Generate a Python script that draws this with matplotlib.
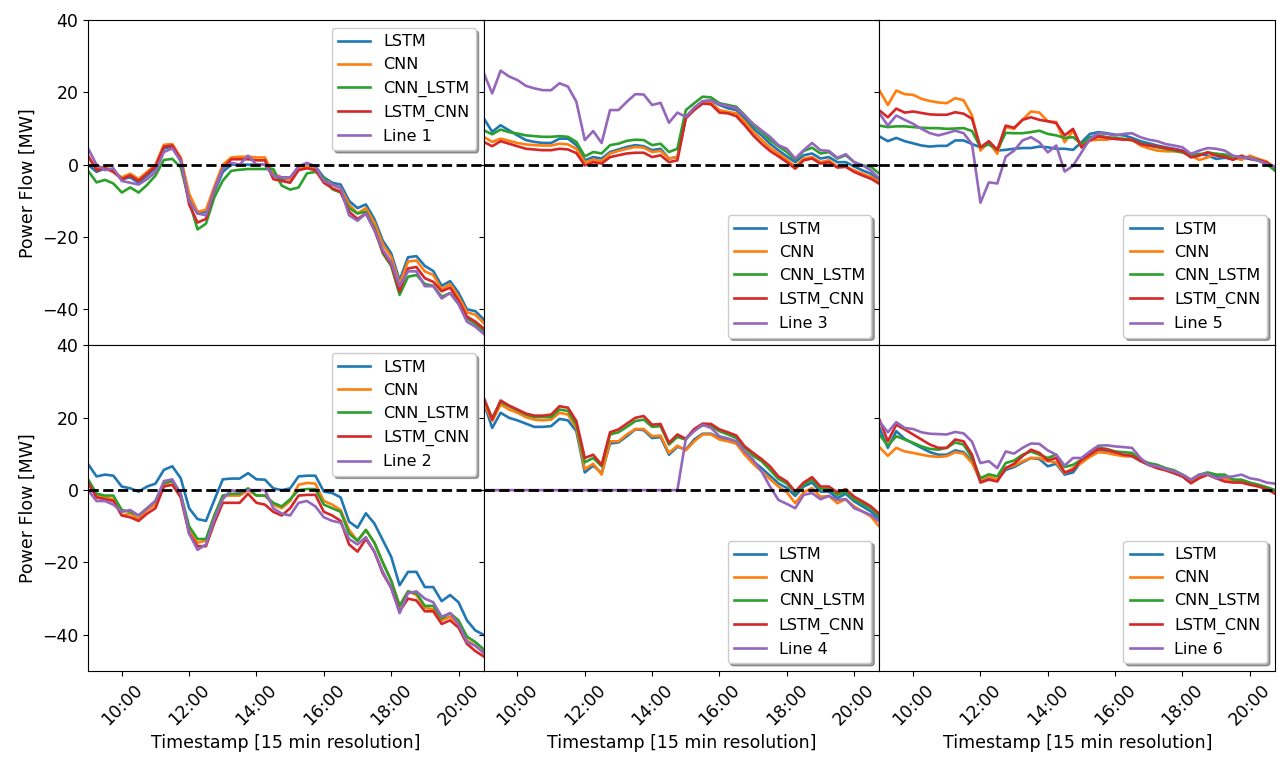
import pandas as pd
import matplotlib
matplotlib.use("Agg")
import matplotlib.pyplot as plt
import matplotlib.dates as mdates

# 15 min timestamps, 09:00 - 20:45
times = pd.date_range("2021-06-01 09:00", periods=48, freq="15min")
models = ["LSTM", "CNN", "CNN_LSTM", "LSTM_CNN"]
colors = ["#1f77b4", "#ff7f0e", "#2ca02c", "#d62728", "#9467bd"]

# ---- Line 1 ----
l1_lstm = [0, -2, -1, -1.5, -4, -3.5, -5, -3, -1, 4.5, 5, 1, -9.5, -13.5, -13, -7.5, -2, 0, 0, 0, 0, 0, -3, -4,
           -4, -0.5, 0.3, -0.5, -3.5, -5, -5.5, -10, -12, -11, -15, -21, -24.5, -32, -25.6, -25.3, -28, -29.4, -33.5, -32.2, -35.4, -40, -40.5, -42.8]
l1_cnn = [2, -1, -0.5, -2, -3.5, -2.5, -4, -2, 0, 5.5, 5.7, 2, -8, -13, -12.5, -6, 0, 2, 2.2, 2.2, 2, 2, -2.5, -3.5,
          -4, -1, -0.5, -1, -4, -5.5, -6.5, -11, -13.5, -12, -16, -22, -25.5, -33, -26.8, -26.5, -29.5, -30.5, -34.5, -33, -36.5, -40.8, -41.5, -43.8]
l1_cnn_lstm = [-1.7, -4.9, -4.2, -5.2, -7.7, -6.3, -7.7, -5.6, -3, 1.3, 1.6, -0.7, -10, -17.9, -16.3, -9, -4.4, -1.7, -1.4, -1.2, -1.2, -1.2, -1.2, -5.8,
               -6.9, -6.3, -2.4, -2, -3.5, -6.8, -7.7, -12, -13.5, -13, -17.5, -24.5, -28, -36, -31, -30.5, -33, -33.5, -36.5, -35.5, -38.5, -42.5, -44, -46]
l1_lstm_cnn = [2.5, -1.5, -1, -2, -4, -3, -4.5, -2.5, -0.5, 5, 5.3, 1.5, -11, -16, -15, -7, -1, 1.5, 1.5, 1.5, 1.2, 1.2, -4, -4.5,
               -5, -1.5, -1, -1.5, -5, -6.5, -7.5, -13, -15, -13.5, -18, -24, -27.5, -35, -28.7, -28.3, -31.4, -32.4, -35, -34, -37.6, -42, -43.4, -45.3]
l1_true = [4.5, 0, -1.5, -1, -4.5, -5, -5.5, -4, -2, 3.5, 4.5, 1, -10, -13.5, -14, -7, -1, 0.5, 0, 2.5, 0, 0, -3, -3.5,
           -3.5, -0.5, 0.5, -0.5, -4.5, -5.5, -6.5, -14, -15.5, -13.5, -18, -23.5, -27, -33.5, -29.5, -29.5, -33.6, -33.6, -37, -35.5, -38.5, -43.4, -44.8, -46.8]

# ---- Line 2 ----
l2_lstm = [7.2, 3.8, 4.3, 4, 1, 0.5, -0.4, 1, 1.8, 5.6, 6.6, 3.3, -5, -8, -8.5, -2.7, 3, 3.2, 3.2, 4.7, 3, 2.9, 0.5, 0,
           0.5, 3.8, 4, 4, -0.4, -0.8, -2, -8.7, -10.4, -6.4, -9.2, -13.8, -18.4, -26.3, -22.6, -22.6, -26.8, -26.8, -30.7, -29, -31, -36, -38.8, -40]
l2_cnn = [2, -1.5, -2, -2.5, -7, -6.5, -8, -5.5, -4, 1.5, 2.5, -1.5, -11, -14.5, -14, -7, -1.5, -1.5, -1.5, 0, -1.5, -1.5, -4, -5,
          -3, 1.5, 2, 1.8, -3, -4, -5.5, -11, -14, -11, -14.5, -20, -25, -32, -28, -29, -32.5, -33, -36, -35, -37, -41.5, -43, -45]
l2_cnn_lstm = [3, -1, -1.5, -1.5, -5.5, -6, -7, -5, -3, 2, 2.5, -1, -10, -13.5, -13.5, -7, -1.5, -1, -1, 0.5, -1.5, -1.5, -3.5, -4.5,
               -2.5, 0, 0.3, 0.3, -4, -5, -6, -12, -14, -11, -14.5, -20, -25, -32, -28, -28.5, -32, -32, -35.5, -34, -36, -40.5, -42, -44]
l2_lstm_cnn = [2, -2, -2.5, -3, -7, -7.5, -8.5, -6.5, -5, 1, 1.5, -2, -12, -15.5, -15.5, -9, -3.5, -3.5, -3.5, -1, -3.5, -4, -6, -7,
               -5, -1.5, -1.3, -1.3, -6, -7, -8.5, -15, -17, -13.5, -17, -23, -27, -33.5, -30, -30.5, -33.5, -33.5, -37, -36, -38, -42.5, -44.5, -46]
l2_true = [0, -3, -3, -4, -6, -5.5, -7, -5, -3, 2.5, 3, -1, -12, -16.5, -15, -8, -2.5, 0, -0.5, 0, 0, 0, -5, -6.5,
           -7, -3.5, -3, -4.5, -7.5, -8.5, -9, -13.5, -15, -13, -17, -22.5, -27, -34, -28.5, -28, -30, -31, -35, -34, -37, -42, -43, -45]

# ---- Line 3 ----
l3_lstm = [12.8, 9.1, 10.9, 9.5, 8.1, 6.8, 6.3, 6, 6, 7.2, 7.2, 5.4, 1.2, 2.1, 1.7, 3.5, 4.2, 4.9, 5.4, 5.1, 4, 4.4, 1.7, 2.1,
           13.2, 15.6, 17.4, 17.7, 16.5, 15.6, 15.1, 12.8, 10, 8.1, 5.8, 4, 2.3, 0.7, 2.6, 3.1, 1.7, 2.1, 0.7, 0.7, -0.5, -1.6, -2.5, -4.4]
l3_cnn = [7.7, 6.3, 7.2, 6.6, 6, 5.6, 5.4, 5.3, 5.3, 5.8, 5.6, 4.4, 0.7, 1.4, 1, 3.1, 3.8, 4.4, 4.9, 4.7, 3.5, 3.8, 1.7, 2.1,
          13.2, 15.4, 17.1, 17.1, 15.1, 14.6, 14.2, 11.9, 9.1, 6.9, 4.7, 3.1, 1.4, -0.5, 1.7, 2.1, 0.7, 1.2, -0.5, -0.5, -1.6, -2.5, -3.4, -4.8]
l3_cnn_lstm = [9.5, 8.4, 9.7, 9, 8.6, 8.1, 7.9, 7.7, 7.7, 7.9, 7.7, 6.3, 2.3, 3.5, 3.1, 5.4, 5.8, 6.6, 6.9, 6.8, 5.4, 5.8, 3.5, 4.4,
               15.1, 17, 18.8, 18.6, 17, 16.5, 16, 13.7, 10.9, 9.1, 6.8, 5.1, 3.5, 1.4, 3.8, 4.7, 3.1, 3.5, 1.7, 2.6, 0.7, -0.2, -0.6, -2.5]
l3_lstm_cnn = [6.3, 5.1, 6.5, 5.8, 5.1, 4.4, 4.2, 4, 4, 4.4, 4.2, 3.2, -0.2, 0.7, 0.3, 2.1, 2.6, 3.1, 3.3, 3.3, 2.1, 2.6, 0.7, 1.2,
               12.8, 15.1, 16.9, 16.7, 14.4, 14.2, 13.4, 10.9, 8.1, 5.8, 3.8, 2.3, 0.7, -1.1, 1.2, 1.7, 0.3, 0.7, -0.8, -0.6, -2, -3, -3.9, -5.3]
l3_true = [25.3, 19.7, 26, 24.4, 23.4, 21.8, 21.1, 20.6, 20.6, 22.5, 21.6, 17.4, 6.8, 9.3, 6, 15.1, 15.1, 17.4, 19.5, 19.4, 16.5, 17.1, 11.6, 14.4,
           13.2, 15.8, 17.6, 17.8, 16.8, 16.2, 15.6, 13.6, 11.3, 9.5, 7.7, 5.4, 4.4, 1.7, 4, 6, 4, 3.8, 1.9, 2.9, 0.7, -0.2, -1.6, -3.9]

# ---- Line 4 ----
l4_lstm = [24.2, 17.2, 21.4, 20, 19.3, 18.4, 17.5, 17.5, 17.7, 19.7, 19.3, 16.3, 4.9, 6.8, 4.7, 12.9, 13.2, 14.9, 16.8, 16.6, 14.4, 14.7, 9.8, 12,
           11.2, 14, 15.6, 15.6, 14.4, 13.8, 12.9, 10.1, 8, 6.1, 4, 1.9, 0.6, -1.6, 1, 2.1, -0.4, -0.4, -2.2, -1, -3.1, -4.5, -5.9, -8.2]
l4_cnn = [24.2, 19.1, 23.7, 22.3, 21.4, 20.2, 19.5, 19.3, 19.5, 21.4, 20.9, 17.2, 5.8, 7.3, 4.3, 13.5, 13.5, 15.4, 16.9, 16.9, 14.9, 15.1, 10.3, 12.3,
          11, 13.5, 15.4, 15.4, 14, 13.5, 12.9, 9.8, 7.3, 5.2, 3.1, 1, -0.6, -3.6, -0.6, 0.6, -1.8, -1.6, -3.6, -2.5, -4.5, -5.9, -7.3, -10.1]
l4_cnn_lstm = [25.1, 20, 24.4, 23.2, 22.1, 20.9, 20.2, 20.2, 20.2, 22.3, 21.9, 18.1, 7.7, 8.9, 6.6, 15.4, 16, 17.5, 19.1, 19.5, 17.5, 17.7, 12.6, 14.7,
               14, 16.7, 17.9, 17.7, 16.3, 15.4, 14.4, 11.7, 9.5, 8, 5.6, 3.1, 1.8, -0.8, 1.5, 2.9, 0.3, 0.3, -1.3, -0.4, -2.5, -3.8, -5, -7.3]
l4_lstm_cnn = [25.6, 19.5, 24.8, 23.4, 22.3, 21.2, 20.6, 20.6, 20.9, 23.2, 22.8, 19.1, 8.9, 9.8, 7, 16, 16.8, 18.4, 20, 20.5, 18.1, 18.3, 13.1, 15.4,
               14.2, 16.9, 18.4, 18.3, 16.8, 16, 15.1, 12.1, 10.3, 8.6, 6.6, 3.8, 2.4, -0.4, 2.1, 3.6, 1, 1, -0.6, 0.3, -1.8, -3.1, -4.5, -6.6]
l4_true = [0, 0, 0, 0, 0, 0, 0, 0, 0, 0, 0, 0, 0, 0, 0, 0, 0, 0, 0, 0, 0, 0, 0, 0,
           14.2, 16.3, 18.1, 17.2, 14.9, 14.3, 13.5, 10.7, 8.4, 5.2, 1, -2.7, -3.8, -5, -1.3, -0.8, -2.5, -1.6, -2.7, -2.5, -5, -5.9, -6.9, -8.7]

# ---- Line 5 ----
l5_lstm = [7.8, 6.5, 7.4, 6.5, 5.9, 5.3, 5, 5.2, 5.2, 6.7, 6.7, 5.7, 4.8, 5.6, 3.9, 4.1, 4.4, 4.6, 4.6, 5, 4.8, 4.4, 4.4, 4.1,
           6.2, 8.5, 9, 8.7, 8.3, 8.1, 7.4, 6.5, 5.9, 5.3, 4.8, 4.4, 3.9, 2.5, 3, 2.5, 1.6, 1.9, 1.6, 2, 1.6, 1.1, 0.4, -0.7]
l5_cnn = [20.5, 16.5, 20.5, 19.5, 19.3, 18.2, 17.6, 17.2, 17, 18.4, 17.8, 13.6, 3.9, 6.2, 3, 10.4, 9.9, 12.4, 14.7, 14.4, 12, 11.8, 6.2, 9.4,
          4.8, 6.7, 6.9, 6.9, 7.4, 7.1, 6.9, 5.3, 4.5, 3.9, 3.7, 3.7, 3.4, 2.5, 1.3, 2, 3.1, 2.2, 2, 1.3, 2.5, 1.6, 0.9, -1.2]
l5_cnn_lstm = [10.8, 10.4, 10.6, 10.6, 10.4, 10.2, 10.1, 10.1, 9.9, 10, 10.1, 9.3, 4.8, 5.7, 4.1, 8.8, 8.7, 8.7, 9, 9.4, 8.5, 8.1, 7.4, 7.6,
               5.7, 7.6, 8.1, 7.6, 7.4, 7.1, 6.7, 5.9, 5.3, 4.8, 4.4, 3.9, 3.4, 2.5, 2.8, 3.4, 3, 2.8, 2.2, 2.2, 1.9, 1.3, 0.2, -1.7]
l5_lstm_cnn = [15, 13.1, 15.5, 14.4, 14.7, 14.3, 13.9, 13.8, 13.8, 14.5, 14.1, 12.7, 4.8, 6.5, 4.1, 10.8, 10.2, 12.4, 13.1, 12.4, 12, 11.5, 8.1, 9.9,
               4.8, 6.7, 7.8, 7.4, 7.1, 6.9, 6.9, 5.7, 5.3, 5, 4.6, 4.2, 3.7, 2, 2.5, 3.4, 2.5, 2.2, 1.3, 2.5, 1.6, 1.3, 0.6, -0.7]
l5_true = [14.2, 10.8, 13.6, 12.4, 11.3, 9.9, 8.7, 8.1, 8.7, 9.4, 8.7, 5.7, -10.5, -4.9, -5.2, 2.2, 3.9, 6.7, 7.6, 6.2, 3.4, 5.3, -1.9, -0.3,
           3.4, 7.1, 8.7, 8.5, 8.1, 8.5, 8.7, 7.6, 6.9, 6.5, 5.7, 5.3, 4.8, 3, 3.9, 4.6, 4.4, 3.9, 2.5, 2, 1.9, 1.1, 0.2, -0.7]

# ---- Line 6 ----
l6_lstm = [17.2, 11.7, 16.3, 14.2, 12.9, 11.7, 10.5, 9.8, 9.8, 11, 10.5, 8, 2.4, 3.3, 2.9, 5.6, 6.4, 7.7, 8.9, 8.6, 6.6, 7.3, 4.3, 4.9,
           8, 9.8, 11.2, 10.7, 10.1, 9.5, 9.4, 8, 7, 6.4, 5.6, 4.9, 3.8, 2.1, 3.8, 4.5, 3.8, 3.3, 2.9, 2.4, 1.8, 1.2, 0.6, -0.4]
l6_cnn = [11.9, 9.5, 11.7, 10.7, 10.3, 9.8, 9.4, 9.2, 9.4, 10.5, 10.1, 7.5, 2.9, 3.8, 2.9, 6.1, 6.8, 8, 8.9, 8.9, 8, 7.7, 4.7, 6.1,
          7.5, 9.2, 10.5, 10.3, 9.8, 9.4, 9.4, 8.2, 7, 6.1, 5.5, 4.7, 3.8, 2.4, 3.6, 4.3, 3.3, 3.1, 2.7, 2.7, 1.9, 1.5, 0.8, 0]
l6_cnn_lstm = [15.4, 12.3, 14.9, 14, 13.1, 12.1, 11.4, 11.2, 11.7, 13.2, 12.6, 8.9, 3.3, 4.4, 3.8, 7.5, 8.2, 9.8, 10.7, 9.8, 8.9, 9.8, 6.4, 7,
               8.4, 10.3, 11.7, 11.4, 10.7, 10.5, 10.3, 8.4, 7.5, 7, 6.1, 5.5, 4.3, 2.9, 4.3, 4.9, 4.3, 4.3, 2.9, 2.9, 2.1, 1.5, 0.8, 0]
l6_lstm_cnn = [19.5, 13.5, 18.1, 16.8, 15.4, 14, 12.6, 11.7, 11.7, 14, 13.5, 9.8, 2.1, 2.9, 2.4, 6.1, 7.3, 9.4, 11.2, 10.3, 8.2, 8.9, 4.9, 5.6,
               8.4, 9.8, 11.4, 11.2, 10.5, 9.8, 9.5, 8.2, 7, 6.1, 5.5, 4.7, 3.8, 1.9, 3.3, 4.3, 3.3, 2.4, 2.1, 2.1, 1.5, 1, 0.3, -1]
l6_true = [19, 16, 18.8, 17.2, 16.9, 16, 15.6, 15.5, 15.4, 16.1, 15.7, 13.4, 7.5, 8, 6.1, 10.7, 10.1, 11.7, 12.9, 12.8, 11, 9.8, 6.8, 8.9,
           8.9, 10.7, 12.3, 12.4, 12.1, 11.9, 11.7, 8.9, 7, 6.6, 5.8, 5.2, 4.3, 2.9, 4.3, 4.5, 3.3, 3.6, 3.8, 4.3, 3.3, 2.9, 2.1, 1.8]

panels = [
    [("Line 1", [l1_lstm, l1_cnn, l1_cnn_lstm, l1_lstm_cnn, l1_true], "upper right"),
     ("Line 3", [l3_lstm, l3_cnn, l3_cnn_lstm, l3_lstm_cnn, l3_true], "lower right"),
     ("Line 5", [l5_lstm, l5_cnn, l5_cnn_lstm, l5_lstm_cnn, l5_true], "lower right")],
    [("Line 2", [l2_lstm, l2_cnn, l2_cnn_lstm, l2_lstm_cnn, l2_true], "upper right"),
     ("Line 4", [l4_lstm, l4_cnn, l4_cnn_lstm, l4_lstm_cnn, l4_true], "lower right"),
     ("Line 6", [l6_lstm, l6_cnn, l6_cnn_lstm, l6_lstm_cnn, l6_true], "lower right")],
]

plt.rcParams["font.size"] = 12.5
fig = plt.figure(figsize=(12.77, 7.58), dpi=100)
axes = fig.subplots(2, 3, sharex=True, sharey=True, gridspec_kw=dict(wspace=0, hspace=0))
fig.subplots_adjust(left=0.069, right=0.9985, top=0.9736, bottom=0.1148)

for r in range(2):
    for c in range(3):
        ax = axes[r, c]
        name, series, loc = panels[r][c]
        labels = models + [name]
        for s, lab, col in zip(series, labels, colors):
            ax.plot(times, s, color=col, lw=1.9, label=lab)
        ax.axhline(0, color="k", ls="--", lw=2)
        ax.legend(loc=loc, shadow=True, fontsize=11.5)
        if c == 0:
            ax.set_ylabel("Power Flow [MW]")
        if r == 1:
            ax.set_xlabel("Timestamp [15 min resolution]")
            ax.tick_params(axis="x", labelrotation=45)

ax = axes[0, 0]
ax.set_ylim(-50, 40)
ax.set_yticks([-40, -20, 0, 20, 40])
ax.set_xlim(times[0], times[-1])
ax.xaxis.set_major_locator(mdates.HourLocator(byhour=range(10, 21, 2)))
ax.xaxis.set_major_formatter(mdates.DateFormatter("%H:%M"))

fig.savefig("out.png", dpi=100)
